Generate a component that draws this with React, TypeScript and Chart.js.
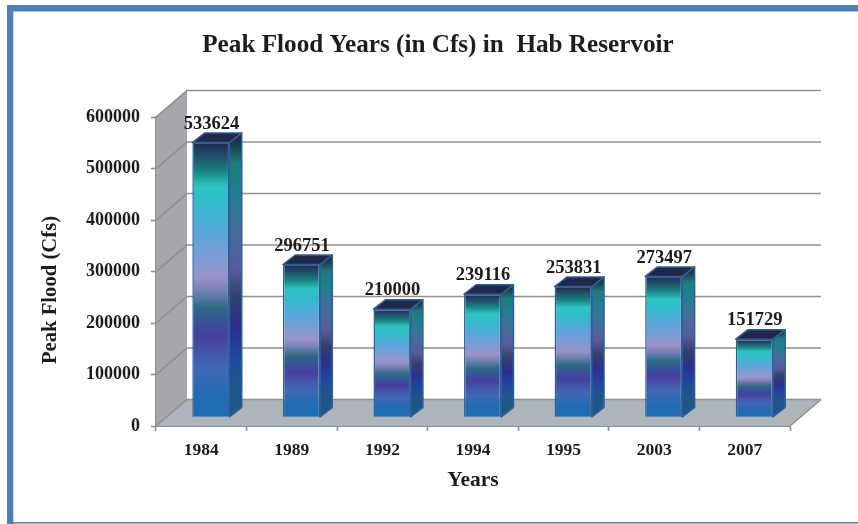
import { useEffect, useRef } from "react";
import { Chart, registerables } from "chart.js";

Chart.register(...registerables);

const years = ["1984", "1989", "1992", "1994", "1995", "2003", "2007"];
const peakFlood = [533624, 296751, 210000, 239116, 253831, 273497, 151729];
const yMax = 600000;
const yStep = 100000;
const chartTitle = "Peak Flood Years (in Cfs) in  Hab Reservoir";
const yTitle = "Peak Flood (Cfs)";
const xTitle = "Years";

const SERIF = '"Liberation Serif", "Times New Roman", serif';
const INK = "#1c1c1e";
const AXIS = "#8d8e92";
const BLUE = "#4f7fb9";
const WALL_DX = 31;
const WALL_DY = 26.5;
const BAR_DX = 9.6;
const BAR_DY = 8.7;
const SIDE_DX = 12.3;
const SIDE_DY = 9.5;

const frontStops: [number, string][] = [
  [0, "#1f6cb2"],
  [0.08, "#1f6cb2"],
  [0.18, "#4068b4"],
  [0.25, "#4650a8"],
  [0.29, "#46409f"],
  [0.34, "#3b4f9c"],
  [0.4, "#2f6a84"],
  [0.46, "#7480b4"],
  [0.51, "#9a93c9"],
  [0.67, "#5aa6dc"],
  [0.78, "#30bdcb"],
  [0.84, "#2fc3c0"],
  [0.9, "#178080"],
  [0.95, "#214f6c"],
  [1, "#20284a"],
];
const sideStops: [number, string][] = [
  [0, "#1f5688"],
  [0.08, "#1f5688"],
  [0.18, "#1f48a0"],
  [0.29, "#2c2f90"],
  [0.4, "#33406a"],
  [0.51, "#5a5ba0"],
  [0.67, "#3f7299"],
  [0.8, "#1f8090"],
  [0.89, "#1c7d7a"],
  [0.96, "#1c3a4a"],
  [1, "#1c2440"],
];

function gradient(ctx: CanvasRenderingContext2D, top: number, bottom: number, stops: [number, string][]) {
  const g = ctx.createLinearGradient(0, bottom, 0, top);
  stops.forEach(([p, c]) => g.addColorStop(p, c));
  return g;
}

const frame = {
  id: "frame",
  beforeDraw(chart: any) {
    const { ctx, width, height } = chart;
    ctx.save();
    ctx.fillStyle = "#ffffff";
    ctx.fillRect(0, 0, width, height);
    ctx.fillStyle = BLUE;
    ctx.fillRect(7, 5, width - 7, 6.5);
    ctx.fillRect(7, 5, 6.3, height - 5);
    ctx.fillRect(7, height - 2, width - 7, 1.5);
    ctx.restore();
  },
};

const room = {
  id: "room",
  beforeDatasetsDraw(chart: any) {
    const { ctx, chartArea: a, scales } = chart;
    const y = scales.y;
    const base = y.getPixelForValue(0);
    ctx.save();
    ctx.fillStyle = "#a5a7aa";
    ctx.beginPath();
    ctx.moveTo(a.left, a.top);
    ctx.lineTo(a.left + WALL_DX, a.top - WALL_DY);
    ctx.lineTo(a.left + WALL_DX, base - WALL_DY);
    ctx.lineTo(a.left, base);
    ctx.closePath();
    ctx.fill();
    ctx.fillStyle = "#adb4ba";
    ctx.beginPath();
    ctx.moveTo(a.left, base);
    ctx.lineTo(a.left + WALL_DX, base - WALL_DY);
    ctx.lineTo(a.right + WALL_DX, base - WALL_DY);
    ctx.lineTo(a.right, base);
    ctx.closePath();
    ctx.fill();
    y.ticks.forEach((t: any) => {
      const py = y.getPixelForValue(t.value);
      ctx.strokeStyle = "#8f9094";
      ctx.lineWidth = 1.6;
      ctx.beginPath();
      ctx.moveTo(a.left, py);
      ctx.lineTo(a.left + WALL_DX, py - WALL_DY);
      ctx.lineTo(a.right + WALL_DX, py - WALL_DY);
      ctx.stroke();
    });
    ctx.beginPath();
    ctx.moveTo(a.right, base);
    ctx.lineTo(a.right + WALL_DX, base - WALL_DY);
    ctx.stroke();
    ctx.restore();
    // Everything the datasets draw sits on the plane between the axis and the back wall.
    ctx.save();
    ctx.translate(BAR_DX, -BAR_DY);
  },
  afterDatasetsDraw(chart: any) {
    const { ctx } = chart;
    const meta = chart.getDatasetMeta(0);
    ctx.textAlign = "center";
    ctx.textBaseline = "alphabetic";
    meta.data.forEach((bar: any, i: number) => {
      const { x, y, base, width } = bar.getProps(["x", "y", "base", "width"], true);
      const l = x - width / 2;
      const r = x + width / 2;
      ctx.strokeStyle = "#2f5f98";
      ctx.lineWidth = 1.5;
      ctx.lineJoin = "round";
      ctx.fillStyle = gradient(ctx, y - SIDE_DY, base - SIDE_DY, sideStops);
      ctx.beginPath();
      ctx.moveTo(r, y);
      ctx.lineTo(r + SIDE_DX, y - SIDE_DY);
      ctx.lineTo(r + SIDE_DX, base - SIDE_DY);
      ctx.lineTo(r, base);
      ctx.closePath();
      ctx.fill();
      ctx.stroke();
      ctx.fillStyle = "#20284a";
      ctx.beginPath();
      ctx.moveTo(l, y);
      ctx.lineTo(l + SIDE_DX, y - SIDE_DY);
      ctx.lineTo(r + SIDE_DX, y - SIDE_DY);
      ctx.lineTo(r, y);
      ctx.closePath();
      ctx.fill();
      ctx.stroke();
      ctx.fillStyle = INK;
      ctx.font = `bold 18.5px ${SERIF}`;
      ctx.fillText(String(peakFlood[i]), x + 0.5, y - 13.7);
    });
    ctx.restore();
    ctx.save();
    ctx.fillStyle = INK;
    ctx.font = `bold 20.7px ${SERIF}`;
    ctx.textAlign = "center";
    ctx.textBaseline = "middle";
    ctx.translate(50.5, 290);
    ctx.rotate(-Math.PI / 2);
    ctx.fillText(yTitle, 0, 0);
    ctx.restore();
  },
};

export default function App() {
  const ref = useRef<HTMLCanvasElement>(null);
  useEffect(() => {
    if (!ref.current) return;
    const chart = new Chart(ref.current, {
      type: "bar",
      data: {
        labels: years,
        datasets: [
          {
            label: yTitle,
            data: peakFlood,
            clip: false,
            categoryPercentage: 1,
            barPercentage: 0.41,
            borderColor: "#2f5f98",
            borderWidth: 1.5,
            backgroundColor: (c: any) => {
              const s = c.chart.scales?.y;
              if (!s || c.raw == null) return "#3f6ab5";
              const top = s.getPixelForValue(c.raw);
              const bottom = s.getPixelForValue(0);
              if (!Number.isFinite(top) || !Number.isFinite(bottom)) return "#3f6ab5";
              return gradient(c.chart.ctx, top, bottom, frontStops);
            },
          },
        ],
      } as any,
      options: {
        animation: false,
        responsive: false,
        layout: { padding: { left: 86, right: 68, top: 0, bottom: 0 } },
        plugins: {
          legend: { display: false },
          tooltip: { enabled: false },
          title: {
            display: true,
            text: chartTitle,
            color: INK,
            font: { family: SERIF, size: 25.2, weight: "bold", lineHeight: 1.2 },
            padding: { top: 30, bottom: 56.8 },
          },
        },
        scales: {
          x: {
            grid: { drawOnChartArea: false, drawTicks: true, tickLength: 5, tickColor: AXIS, tickWidth: 1.6 },
            border: { display: true, color: AXIS, width: 2 },
            ticks: { color: INK, font: { family: SERIF, size: 17.5, weight: "bold" }, padding: 9, maxRotation: 0 },
            title: {
              display: true,
              text: xTitle,
              color: INK,
              font: { family: SERIF, size: 21.5, weight: "bold" },
              padding: { top: 0, bottom: 31 },
            },
            afterFit: (s: any) => {
              s.height = 98;
            },
          },
          y: {
            min: 0,
            max: yMax,
            grid: { drawOnChartArea: false, drawTicks: true, tickLength: 5, tickColor: AXIS, tickWidth: 1.6 },
            border: { display: true, color: AXIS, width: 1.6 },
            ticks: { stepSize: yStep, color: INK, font: { family: SERIF, size: 18, weight: "bold" }, padding: 11, precision: 0, callback: (v: any) => String(v) },
            afterFit: (s: any) => {
              s.width = 70;
            },
          },
        },
      },
      plugins: [frame, room],
    } as any);
    return () => chart.destroy();
  }, []);
  return <canvas ref={ref} width={858} height={524} style={{ position: "absolute", left: 0, top: 0, display: "block" }} />;
}
